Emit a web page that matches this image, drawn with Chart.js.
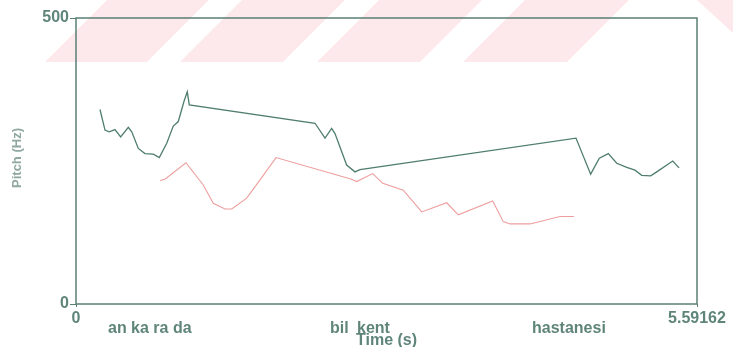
<!DOCTYPE html>
<html>
<head>
<meta charset="utf-8">
<script src="https://cdn.jsdelivr.net/npm/chart.js@4"></script>
<style>
  html, body { margin: 0; padding: 0; background: #fff; }
  canvas { display: block; }
</style>
</head>
<body>
<canvas id="grafico" width="733" height="347"></canvas>
<script>
// pitch track (green) - time in s, pitch in Hz
const greenTimes = [0.216, 0.261, 0.300, 0.351, 0.402, 0.471, 0.502, 0.561, 0.621, 0.696, 0.750, 0.817, 0.876, 0.921, 0.972, 1.002, 1.020,
  2.152, 2.242, 2.302, 2.332, 2.437, 2.512, 2.557,
  4.502, 4.634, 4.712, 4.793, 4.869, 4.959, 5.033, 5.094, 5.175, 5.229, 5.373, 5.430];
const greenPitch = [340, 304, 301, 305, 292, 309, 301, 272, 263, 262, 256, 281, 311, 319, 354, 371, 348,
  316, 290, 307, 298, 243, 231, 235,
  290, 227, 255, 263, 246, 239, 234, 225, 224, 231, 250, 238];

// second track (red)
const redTimes = [0.756, 0.801, 0.990, 1.146, 1.236, 1.342, 1.402, 1.537, 1.657, 1.801,
  2.482, 2.527, 2.672, 2.762, 2.947, 3.113, 3.338, 3.442, 3.752, 3.847, 3.908, 4.088, 4.358, 4.484];
const redPitch = [216, 218, 247, 208, 176, 166, 166, 185, 217, 256,
  218, 214, 228, 211, 199, 161, 177, 156, 180, 144, 140, 140, 153, 153];

const xTicks = [0, 5.59162];
const yTicks = [0, 500];

// silabas escritas embaixo do grafico
const syllables = ['an ka ra da', 'bil', 'kent', 'hastanesi'];
const syllableTimes = [0.288, 2.287, 2.530, 4.106];

const textColor = '#5f857a';
const frameColor = '#5a7f74';
const fonte = 'bold 16px "Liberation Sans", Arial, sans-serif';

const toPoints = (ts, vs) => ts.map((t, i) => ({ x: t, y: vs[i] }));

const fundo = {
  id: 'fundo',
  beforeDraw(chart) {
    const ctx = chart.ctx;
    ctx.save();
    ctx.fillStyle = '#fff';
    ctx.fillRect(0, 0, chart.width, chart.height);
    // faixas rosadas no topo (marca d'agua do scan)
    ctx.beginPath();
    ctx.rect(0, 0, chart.width, 62);
    ctx.clip();
    ctx.fillStyle = 'rgba(250, 205, 212, 0.45)';
    [[45, 147], [180, 283], [317, 420], [463, 567]].forEach(([a, b]) => {
      ctx.beginPath();
      ctx.moveTo(a, 62);
      ctx.lineTo(b, 62);
      ctx.lineTo(b + 62, 0);
      ctx.lineTo(a + 62, 0);
      ctx.closePath();
      ctx.fill();
    });
    ctx.beginPath();
    ctx.moveTo(697, 0);
    ctx.lineTo(733, 0);
    ctx.lineTo(733, 33);
    ctx.closePath();
    ctx.fill();
    ctx.restore();
  },
  afterDraw(chart) {
    const ctx = chart.ctx;
    const a = chart.chartArea;
    const x = chart.scales.x;
    ctx.save();
    ctx.strokeStyle = frameColor;
    ctx.lineWidth = 1.5;
    ctx.strokeRect(a.left, a.top, a.right - a.left, a.bottom - a.top);
    ctx.fillStyle = textColor;
    ctx.font = fonte;
    ctx.textBaseline = 'alphabetic';
    ctx.textAlign = 'left';
    syllables.forEach((s, i) => ctx.fillText(s, x.getPixelForValue(syllableTimes[i]), 333));
    // titulo do eixo y, meio cortado na borda
    ctx.translate(21, 158);
    ctx.rotate(-Math.PI / 2);
    ctx.fillStyle = '#8fa8a1';
    ctx.font = 'bold 13px "Liberation Sans", Arial, sans-serif';
    ctx.textAlign = 'center';
    ctx.fillText('Pitch (Hz)', 0, 0);
    ctx.restore();
  }
};

new Chart(document.getElementById('grafico'), {
  type: 'scatter',
  data: {
    datasets: [
      {
        data: toPoints(greenTimes, greenPitch),
        showLine: true,
        borderColor: '#4f7d6e',
        borderWidth: 1.3,
        pointRadius: 0,
        tension: 0,
      },
      {
        data: toPoints(redTimes, redPitch),
        showLine: true,
        borderColor: '#ee9e9e',
        borderWidth: 1.1,
        pointRadius: 0,
        tension: 0,
      },
    ],
  },
  options: {
    responsive: false,
    animation: false,
    devicePixelRatio: 1,
    layout: { padding: { top: 18, right: 36, left: 0, bottom: 0 } },
    plugins: { legend: { display: false }, tooltip: { enabled: false } },
    scales: {
      x: {
        type: 'linear',
        min: 0,
        max: 5.59162,
        afterBuildTicks: s => { s.ticks = xTicks.map(v => ({ value: v })); },
        afterFit: s => { s.height = 43; },
        ticks: { color: textColor, font: { size: 16, weight: 'bold', family: '"Liberation Sans", Arial' }, padding: 2, maxRotation: 0, callback: v => String(v) },
        grid: { drawOnChartArea: false, tickLength: 3, color: frameColor },
        border: { display: false },
        title: { display: true, text: 'Time (s)', color: textColor, font: { size: 16, weight: 'bold', family: '"Liberation Sans", Arial' }, padding: { top: 0, bottom: -3 } },
      },
      y: {
        min: 0,
        max: 500,
        afterBuildTicks: s => { s.ticks = yTicks.map(v => ({ value: v })); },
        afterFit: s => { s.width = 76; },
        ticks: { color: textColor, font: { size: 16, weight: 'bold', family: '"Liberation Sans", Arial' }, padding: 1 },
        grid: { drawOnChartArea: false, tickLength: 6, color: frameColor },
        border: { display: false },
      },
    },
  },
  plugins: [fundo],
});
</script>
</body>
</html>
